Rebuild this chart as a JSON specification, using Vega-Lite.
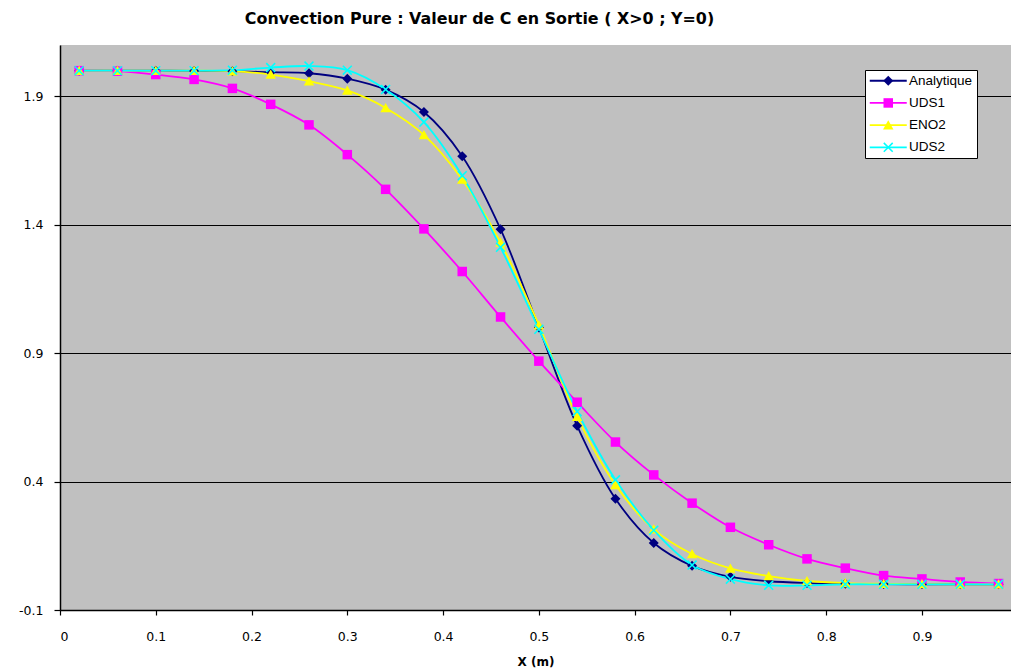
{
  "$schema": "https://vega.github.io/schema/vega-lite/v6.json",
  "width": 951,
  "height": 565,
  "autosize": {"type": "none"},
  "padding": {"left": 60, "top": 45, "right": 0, "bottom": 58},
  "background": "white",
  "config": {"view": {"fill": "#C0C0C0", "stroke": null}, "font": "DejaVu Sans"},
  "title": {
    "text": "Convection Pure : Valeur de C en Sortie ( X>0 ; Y=0)",
    "font": "DejaVu Sans", "fontSize": 15.9, "fontWeight": "bold", "color": "black",
    "anchor": "middle", "dx": -56, "offset": 5, "baseline": "alphabetic"
  },
  "data": {"values": [
    {"x":0.02,"s":"Analytique","v":2.0},{"x":0.06,"s":"Analytique","v":2.0},{"x":0.10,"s":"Analytique","v":2.0},{"x":0.14,"s":"Analytique","v":1.999},{"x":0.18,"s":"Analytique","v":1.998},{"x":0.22,"s":"Analytique","v":1.994},{"x":0.26,"s":"Analytique","v":1.99},{"x":0.30,"s":"Analytique","v":1.969},{"x":0.34,"s":"Analytique","v":1.926},{"x":0.38,"s":"Analytique","v":1.839},{"x":0.42,"s":"Analytique","v":1.667},{"x":0.46,"s":"Analytique","v":1.383},{"x":0.50,"s":"Analytique","v":1.0},{"x":0.54,"s":"Analytique","v":0.617},{"x":0.58,"s":"Analytique","v":0.333},{"x":0.62,"s":"Analytique","v":0.161},{"x":0.66,"s":"Analytique","v":0.072},{"x":0.70,"s":"Analytique","v":0.029},{"x":0.74,"s":"Analytique","v":0.012},{"x":0.78,"s":"Analytique","v":0.005},{"x":0.82,"s":"Analytique","v":0.002},{"x":0.86,"s":"Analytique","v":0.001},{"x":0.90,"s":"Analytique","v":0.0},{"x":0.94,"s":"Analytique","v":0.0},{"x":0.98,"s":"Analytique","v":0.0},
    {"x":0.02,"s":"UDS1","v":2.0},{"x":0.06,"s":"UDS1","v":1.998},{"x":0.10,"s":"UDS1","v":1.985},{"x":0.14,"s":"UDS1","v":1.966},{"x":0.18,"s":"UDS1","v":1.931},{"x":0.22,"s":"UDS1","v":1.869},{"x":0.26,"s":"UDS1","v":1.789},{"x":0.30,"s":"UDS1","v":1.673},{"x":0.34,"s":"UDS1","v":1.538},{"x":0.38,"s":"UDS1","v":1.384},{"x":0.42,"s":"UDS1","v":1.218},{"x":0.46,"s":"UDS1","v":1.041},{"x":0.50,"s":"UDS1","v":0.869},{"x":0.54,"s":"UDS1","v":0.709},{"x":0.58,"s":"UDS1","v":0.554},{"x":0.62,"s":"UDS1","v":0.426},{"x":0.66,"s":"UDS1","v":0.316},{"x":0.70,"s":"UDS1","v":0.222},{"x":0.74,"s":"UDS1","v":0.154},{"x":0.78,"s":"UDS1","v":0.099},{"x":0.82,"s":"UDS1","v":0.063},{"x":0.86,"s":"UDS1","v":0.034},{"x":0.90,"s":"UDS1","v":0.021},{"x":0.94,"s":"UDS1","v":0.009},{"x":0.98,"s":"UDS1","v":0.003},
    {"x":0.02,"s":"ENO2","v":2.0},{"x":0.06,"s":"ENO2","v":2.0},{"x":0.10,"s":"ENO2","v":2.0},{"x":0.14,"s":"ENO2","v":2.0},{"x":0.18,"s":"ENO2","v":1.998},{"x":0.22,"s":"ENO2","v":1.985},{"x":0.26,"s":"ENO2","v":1.959},{"x":0.30,"s":"ENO2","v":1.923},{"x":0.34,"s":"ENO2","v":1.855},{"x":0.38,"s":"ENO2","v":1.75},{"x":0.42,"s":"ENO2","v":1.576},{"x":0.46,"s":"ENO2","v":1.331},{"x":0.50,"s":"ENO2","v":1.009},{"x":0.54,"s":"ENO2","v":0.652},{"x":0.58,"s":"ENO2","v":0.387},{"x":0.62,"s":"ENO2","v":0.214},{"x":0.66,"s":"ENO2","v":0.118},{"x":0.70,"s":"ENO2","v":0.062},{"x":0.74,"s":"ENO2","v":0.032},{"x":0.78,"s":"ENO2","v":0.013},{"x":0.82,"s":"ENO2","v":0.005},{"x":0.86,"s":"ENO2","v":0.002},{"x":0.90,"s":"ENO2","v":0.001},{"x":0.94,"s":"ENO2","v":0.0},{"x":0.98,"s":"ENO2","v":0.0},
    {"x":0.02,"s":"UDS2","v":2.0},{"x":0.06,"s":"UDS2","v":2.0},{"x":0.10,"s":"UDS2","v":2.0},{"x":0.14,"s":"UDS2","v":2.0},{"x":0.18,"s":"UDS2","v":2.002},{"x":0.22,"s":"UDS2","v":2.012},{"x":0.26,"s":"UDS2","v":2.018},{"x":0.30,"s":"UDS2","v":2.002},{"x":0.34,"s":"UDS2","v":1.927},{"x":0.38,"s":"UDS2","v":1.8},{"x":0.42,"s":"UDS2","v":1.591},{"x":0.46,"s":"UDS2","v":1.312},{"x":0.50,"s":"UDS2","v":0.993},{"x":0.54,"s":"UDS2","v":0.673},{"x":0.58,"s":"UDS2","v":0.407},{"x":0.62,"s":"UDS2","v":0.211},{"x":0.66,"s":"UDS2","v":0.075},{"x":0.70,"s":"UDS2","v":0.02},{"x":0.74,"s":"UDS2","v":-0.004},{"x":0.78,"s":"UDS2","v":-0.004},{"x":0.82,"s":"UDS2","v":0.0},{"x":0.86,"s":"UDS2","v":0.0},{"x":0.90,"s":"UDS2","v":0.0},{"x":0.94,"s":"UDS2","v":0.0},{"x":0.98,"s":"UDS2","v":0.0}
  ]},
  "encoding": {
    "x": {
      "field": "x", "type": "quantitative",
      "scale": {"domain": [0, 0.993], "nice": false, "zero": false},
      "axis": {
        "values": [0, 0.1, 0.2, 0.3, 0.4, 0.5, 0.6, 0.7, 0.8, 0.9],
        "labelExpr": "'' + datum.value",
        "grid": false,
        "domainColor": "black", "domainWidth": 1.5,
        "tickColor": "black", "tickSize": 5, "tickWidth": 1.2,
        "labelFont": "DejaVu Sans", "labelFontSize": 12.5, "labelColor": "black", "labelPadding": 15,
        "title": "X (m)", "titleFont": "DejaVu Sans", "titleFontSize": 12, "titleFontWeight": "bold",
        "titleColor": "black", "titleY": 55.5, "titleBaseline": "alphabetic"
      }
    },
    "y": {
      "field": "v", "type": "quantitative",
      "scale": {"domain": [-0.1, 2.1], "nice": false, "zero": false},
      "axis": {
        "values": [-0.1, 0.4, 0.9, 1.4, 1.9],
        "labelExpr": "'' + datum.value",
        "grid": true, "gridColor": "black", "gridWidth": 1.2, "gridOpacity": 1,
        "domainColor": "black", "domainWidth": 1.5,
        "tickColor": "black", "tickSize": 6, "tickWidth": 1.2,
        "labelFont": "DejaVu Sans", "labelFontSize": 12.5, "labelColor": "black", "labelPadding": 11,
        "title": null
      }
    }
  },
  "layer": [
    {
      "mark": {"type": "line", "interpolate": "catmull-rom", "strokeWidth": 1.8},
      "encoding": {
        "stroke": {
          "field": "s", "type": "nominal",
          "sort": ["Analytique", "UDS1", "ENO2", "UDS2"],
          "scale": {"range": ["#000080", "#FF00FF", "#FFFF00", "#00FFFF"]},
          "legend": {
            "orient": "none", "legendX": 805, "legendY": 25, "title": null,
            "fillColor": "white", "strokeColor": "black", "padding": 4,
            "labelFont": "Liberation Sans", "labelFontSize": 13.5, "labelColor": "black",
            "symbolType": "M-3.7,0L3.7,0", "symbolSize": 100, "symbolStrokeWidth": 1.8,
            "symbolOffset": 12.5, "labelOffset": 14, "rowPadding": 7.2
          }
        }
      }
    },
    {
      "mark": {"type": "point", "filled": true, "size": 100, "strokeWidth": 0, "opacity": 1},
      "encoding": {
        "color": {
          "field": "s", "type": "nominal",
          "scale": {"domain": ["Analytique", "UDS1", "ENO2", "UDS2"], "range": ["#000080", "#FF00FF", "#FFFF00", "#00FFFF"]},
          "legend": {
            "orient": "none", "legendX": 805, "legendY": 25, "title": null, "padding": 4,
            "labelFont": "Liberation Sans", "labelFontSize": 13.5, "labelColor": "black", "labelOpacity": 0,
            "symbolSize": 100, "symbolStrokeWidth": 1.8,
            "symbolOffset": 12.5, "labelOffset": 14, "rowPadding": 7.2
          }
        },
        "shape": {
          "field": "s", "type": "nominal",
          "scale": {"domain": ["Analytique", "UDS1", "ENO2", "UDS2"], "range": ["M0,-1L1,0L0,1L-1,0Z", "M-0.95,-0.95L0.95,-0.95L0.95,0.95L-0.95,0.95Z", "M0,-1L1.05,0.85L-1.05,0.85Z", "M-1,-0.78L-0.78,-1L1,0.78L0.78,1Z M0.78,-1L1,-0.78L-0.78,1L-1,0.78Z"]},
          "legend": null
        }
      }
    }
  ]
}
